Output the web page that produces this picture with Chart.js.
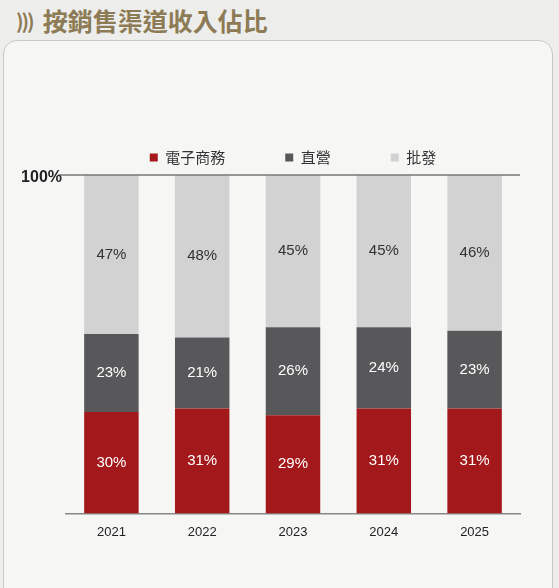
<!DOCTYPE html>
<html>
<head>
<meta charset="utf-8">
<script src="https://cdn.jsdelivr.net/npm/chart.js@4"></script>
<style>
  body { margin: 0; width: 559px; height: 588px; background: #ededeb; font-family: "Noto Sans CJK TC", sans-serif; overflow: hidden; }
  .title { position: absolute; left: 16px; top: 2px; font-size: 25px; font-weight: bold; color: #8c7b55; }
  .title span { font-size: 20px; margin-right: 10px; letter-spacing: -2px; position: relative; top: -2px; }
  .panel { position: absolute; left: 3px; top: 40px; width: 548px; height: 560px; border: 1px solid #c8c8c4; border-radius: 14px; background: #f6f6f5; }
  #wrap { position: absolute; left: 0; top: 0; width: 559px; height: 588px; }
</style>
</head>
<body>
<div class="panel"></div>
<div class="title"><span>)))</span>按銷售渠道收入佔比</div>
<div id="wrap"><canvas id="chart" width="559" height="588"></canvas></div>
<script>
const years = ['2021', '2022', '2023', '2024', '2025']
const ecommerce = [30, 31, 29, 31, 31]
const direct = [23, 21, 26, 24, 23]
const wholesale = [47, 48, 45, 45, 46]

var ctx = document.getElementById('chart')

const labelPlugin = {
  id: 'labels',
  afterDatasetsDraw(chart) {
    const c = chart.ctx
    c.save()
    c.font = '15px "Liberation Sans", Arial, sans-serif'
    c.textAlign = 'center'
    c.textBaseline = 'middle'
    chart.data.datasets.forEach((ds, i) => {
      chart.getDatasetMeta(i).data.forEach((bar, j) => {
        c.fillStyle = i === 2 ? '#333' : '#fff'
        c.fillText(ds.data[j] + '%', bar.x, (bar.y + bar.base) / 2)
      })
    })
    // top line and 100% label
    const a = chart.chartArea
    c.strokeStyle = '#777'
    c.lineWidth = 1.5
    c.beginPath()
    c.moveTo(a.left - 8, a.top)
    c.lineTo(a.right, a.top)
    c.stroke()
    c.fillStyle = '#222'
    c.font = 'bold 16px "Liberation Sans", Arial, sans-serif'
    c.textAlign = 'right'
    c.fillText('100%', a.left - 4, a.top + 3)
    c.restore()
  }
}

new Chart(ctx, {
  type: 'bar',
  data: {
    labels: years,
    datasets: [
      { label: '電子商務', data: ecommerce, backgroundColor: '#a3191b' },
      { label: '直營', data: direct, backgroundColor: '#58585a' },
      { label: '批發', data: wholesale, backgroundColor: '#d2d2d2' }
    ]
  },
  options: {
    responsive: false,
    animation: false,
    devicePixelRatio: 1,
    layout: { padding: { left: 66, right: 39, top: 90, bottom: 45 } },
    datasets: { bar: { barPercentage: 0.6, categoryPercentage: 1 } },
    plugins: {
      legend: {
        labels: {
          boxWidth: 8, boxHeight: 8, padding: 60, color: '#333',
          font: { size: 15, family: '"Noto Sans CJK TC", sans-serif' }
        }
      },
      tooltip: { enabled: false }
    },
    scales: {
      x: {
        stacked: true,
        grid: { display: false },
        border: { color: '#888', width: 1.5 },
        ticks: { color: '#222', font: { size: 13, family: '"Liberation Sans", Arial, sans-serif' } }
      },
      y: { stacked: true, min: 0, max: 100, display: false }
    }
  },
  plugins: [labelPlugin]
})
</script>
</body>
</html>
